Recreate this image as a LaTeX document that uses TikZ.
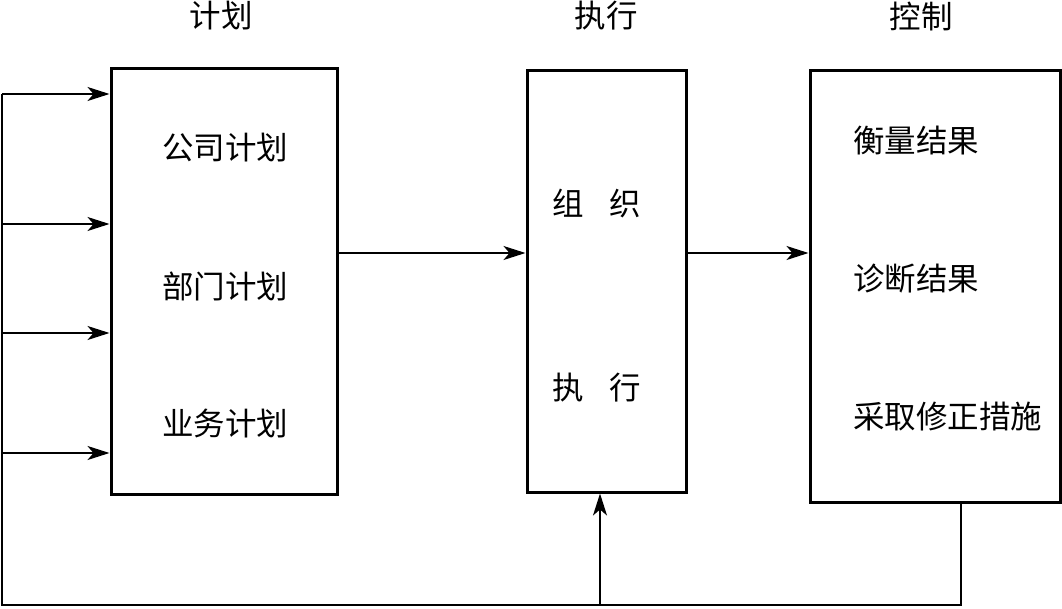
\documentclass[tikz,border=0pt]{standalone}
\usepackage{fontspec}
\newfontfamily\cjk{Noto Sans CJK SC}
\usetikzlibrary{arrows.meta}
\begin{document}
\begin{tikzpicture}[x=1pt,y=-1pt,
  box/.style={draw,line width=3pt,inner sep=0pt},
  lbl/.style={font=\cjk\fontsize{31.5}{33}\selectfont,inner sep=0pt},
  conn/.style={line width=1.8pt},
  arr/.style={conn,-{Stealth[length=22pt,width=14pt,inset=6pt]}}]
\useasboundingbox (0,0) rectangle (1062,608);
% boxes
\node[box,minimum width=226pt,minimum height=426pt] (plan) at (224,281) {};
\node[box,minimum width=159pt,minimum height=422pt] (exec) at (606.5,281) {};
\node[box,minimum width=250pt,minimum height=432pt] (ctrl) at (935,286) {};
% titles
\node[lbl] (t1) at (221,16) {计划};
\node[lbl] (t2) at (606,16) {执行};
\node[lbl] (t3) at (921,16) {控制};
% box texts
\node[lbl] (p1) at (225,148) {公司计划};
\node[lbl] (p2) at (225,286) {部门计划};
\node[lbl] (p3) at (225,424) {业务计划};
\node[lbl] (e1) at (597,204) {组\hspace{0.8em}织};
\node[lbl] (e2) at (597,388) {执\hspace{0.8em}行};
\node[lbl,anchor=west] (c1) at (853,141) {衡量结果};
\node[lbl,anchor=west] (c2) at (853,279) {诊断结果};
\node[lbl,anchor=west] (c3) at (853,417) {采取修正措施};
% feedback coordinates
\coordinate (ctrlb) at (961,502);
\coordinate (br) at (961,605);
\coordinate (bl) at (2,605);
\coordinate (bm) at (600,605);
\coordinate (tl) at (2,94);
\coordinate (l2) at (2,224);
\coordinate (l3) at (2,333);
\coordinate (l4) at (2,453);
\draw[conn] (ctrlb) -- (br) -- (bl) -- (tl);
\draw[arr] (tl) -- (tl -| plan.west);
\draw[arr] (l2) -- (l2 -| plan.west);
\draw[arr] (l3) -- (l3 -| plan.west);
\draw[arr] (l4) -- (l4 -| plan.west);
\draw[arr] (bm) -- (bm |- exec.south);
\coordinate (m) at (0,253);
\draw[arr] (m -| plan.east) -- (m -| exec.west);
\draw[arr] (m -| exec.east) -- (m -| ctrl.west);
\end{tikzpicture}
\end{document}
